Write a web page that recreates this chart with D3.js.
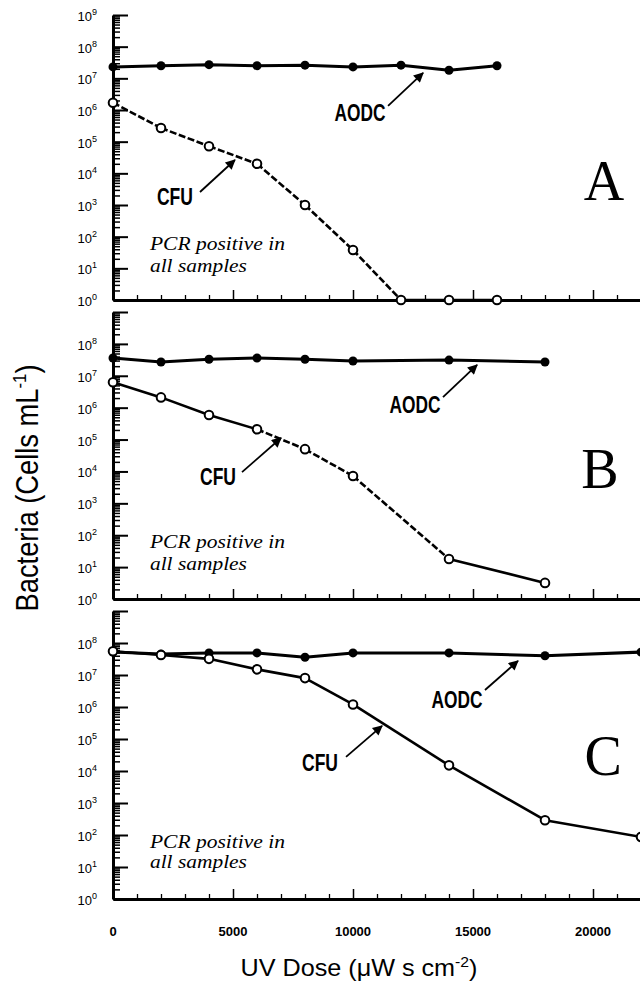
<!DOCTYPE html>
<html>
<head>
<meta charset="utf-8">
<script src="https://cdn.jsdelivr.net/npm/d3@7"></script>
<style>
body { margin: 0; background: #fff; }
svg { display: block; }
</style>
</head>
<body>
<svg id="chart" width="640" height="987"></svg>
<script>
// ---- data ----
const doseA = [0, 2000, 4000, 6000, 8000, 10000, 12000, 14000, 16000];
const aodcA = [2.3e7, 2.5e7, 2.7e7, 2.5e7, 2.6e7, 2.3e7, 2.6e7, 1.8e7, 2.5e7];
const cfuA  = [1.7e6, 2.7e5, 7.2e4, 2.0e4, 1.0e3, 38, 1, 1, 1];

const doseB = [0, 2000, 4000, 6000, 8000, 10000, 14000, 18000];
const aodcB = [3.6e7, 2.7e7, 3.3e7, 3.6e7, 3.3e7, 2.9e7, 3.1e7, 2.7e7];
const cfuB  = [6.3e6, 2.1e6, 5.9e5, 2.1e5, 5.0e4, 7.2e3, 18, 3.2];

const doseC = [0, 2000, 4000, 6000, 8000, 10000, 14000, 18000, 22000];
const aodcC = [5.2e7, 4.5e7, 4.9e7, 4.9e7, 3.6e7, 4.9e7, 4.9e7, 4.0e7, 5.2e7];
const cfuC  = [5.5e7, 4.2e7, 3.2e7, 1.5e7, 8.0e6, 1.2e6, 1.5e4, 290, 87];

const xTicks = [0, 5000, 10000, 15000, 20000];
const yPowers = [0, 1, 2, 3, 4, 5, 6, 7, 8, 9];

const svg = d3.select("#chart");
const narrow = "'Liberation Sans Narrow', 'Arial Narrow', 'Liberation Sans', Arial, sans-serif";
const sans = "'Liberation Sans', Arial, sans-serif";
const serif = "'Liberation Serif', 'Times New Roman', serif";

const x = d3.scaleLinear().domain([0, 22000]).range([113, 641]);

// annotation placement, in (dose, log10 cells) units
const panels = [
    { name: "A", bottom: 300, top: 15, showTop: true,
      dose: doseA, aodc: aodcA, cfu: cfuA, dashed: [1, 1, 1, 1, 1, 1, 0, 0],
      aodcText: [10290, 5.9], aodcArrow: [[11460, 6.13], [12920, 7.17]],
      cfuText: [2580, 3.25], cfuArrow: [[3625, 3.41], [5080, 4.42]],
      letter: [20460, 3.16], pcr: [1540, 1.58, 0.88] },
    { name: "B", bottom: 599, top: 312, showTop: false,
      dose: doseB, aodc: aodcB, cfu: cfuB, dashed: [0, 0, 0, 1, 1, 1, 0],
      aodcText: [12580, 6.08], aodcArrow: [[13750, 6.33], [15170, 7.34]],
      cfuText: [4375, 3.82], cfuArrow: [[5375, 3.98], [7000, 5.05]],
      letter: [20290, 3.48], pcr: [1540, 1.6, 0.91] },
    { name: "C", bottom: 899, top: 611, showTop: false,
      dose: doseC, aodc: aodcC, cfu: cfuC, dashed: [0, 0, 0, 0, 0, 0, 0, 0],
      aodcText: [14330, 6.22], aodcArrow: [[15500, 6.53], [16875, 7.44]],
      cfuText: [8625, 4.25], cfuArrow: [[9710, 4.44], [11210, 5.41]],
      letter: [20420, 3.875], pcr: [1540, 1.59, 0.97] }
];

svg.append("rect").attr("width", 640).attr("height", 987).attr("fill", "#fff");

const defs = svg.append("defs");
defs.append("marker")
    .attr("id", "arrow")
    .attr("viewBox", "0 0 10 10")
    .attr("refX", 9).attr("refY", 5)
    .attr("markerWidth", 13).attr("markerHeight", 10)
    .attr("markerUnits", "userSpaceOnUse")
    .attr("orient", "auto")
    .append("path").attr("d", "M0,0L10,5L0,10z").attr("fill", "#000");

panels.forEach(drawPanel);

function drawPanel(p) {
    const y = d3.scaleLog().domain([1, 1e9]).range([p.bottom, p.top]);
    const g = svg.append("g").attr("class", "panel-" + p.name);

    // y axis: minor + major ticks pointing inward
    const minor = [];
    for (let k = 0; k < 9; k++) for (let m = 2; m <= 9; m++) minor.push(m * Math.pow(10, k));
    g.append("g")
        .attr("transform", `translate(${x(0)},0)`)
        .call(d3.axisRight(y).tickValues(minor).tickSize(7).tickSizeOuter(0).tickFormat(""))
        .call(a => a.select(".domain").remove())
        .call(a => a.selectAll("line").attr("stroke-width", 1.5));
    g.append("g")
        .attr("transform", `translate(${x(0)},0)`)
        .call(d3.axisRight(y).tickValues(yPowers.map(k => Math.pow(10, k))).tickSize(15).tickSizeOuter(0).tickFormat(""))
        .call(a => a.select(".domain").attr("stroke-width", 3))
        .call(a => a.selectAll("line").attr("stroke-width", 2));

    // y tick labels 10^k
    const labs = g.append("g").attr("font-family", sans).attr("font-size", 13);
    yPowers.filter(k => k < 9 || p.showTop).forEach(k => {
        const t = labs.append("text")
            .attr("x", 97).attr("y", y(Math.pow(10, k)) + 6)
            .attr("text-anchor", "end");
        t.append("tspan").text("10");
        t.append("tspan").attr("font-size", 9).attr("dy", -6).text(k);
    });

    // x axis, ticks pointing up
    const minorX = d3.range(0, 22001, 1000).filter(v => v % 5000 !== 0);
    g.append("g")
        .attr("transform", `translate(0,${p.bottom})`)
        .call(d3.axisTop(x).tickValues(minorX).tickSize(5).tickSizeOuter(0).tickFormat(""))
        .call(a => a.select(".domain").remove())
        .call(a => a.selectAll("line").attr("stroke-width", 1.3));
    g.append("g")
        .attr("transform", `translate(0,${p.bottom})`)
        .call(d3.axisTop(x).tickValues(xTicks).tickSize(10).tickSizeOuter(0).tickFormat(""))
        .call(a => a.select(".domain").attr("stroke-width", 3))
        .call(a => a.selectAll("line").attr("stroke-width", 1.5));

    // AODC line + filled points
    const line = d3.line().x(d => x(d[0])).y(d => y(d[1]));
    const aodcPts = d3.zip(p.dose, p.aodc);
    g.append("path")
        .attr("d", line(aodcPts))
        .attr("fill", "none").attr("stroke", "#000")
        .attr("stroke-width", 3).attr("stroke-linejoin", "round");

    // CFU segments (some dashed in the original)
    const cfuPts = d3.zip(p.dose, p.cfu);
    d3.pairs(cfuPts).forEach((seg, i) => {
        g.append("path")
            .attr("d", line(seg))
            .attr("fill", "none").attr("stroke", "#000")
            .attr("stroke-width", 2.6)
            .attr("stroke-dasharray", p.dashed[i] ? "7,2.5" : null);
    });

    g.selectAll(".aodc-pt").data(aodcPts).enter().append("circle")
        .attr("class", "aodc-pt")
        .attr("cx", d => x(d[0])).attr("cy", d => y(d[1]))
        .attr("r", 4.5).attr("fill", "#000");

    g.selectAll(".cfu-pt").data(cfuPts).enter().append("circle")
        .attr("class", "cfu-pt")
        .attr("cx", d => x(d[0])).attr("cy", d => y(d[1]))
        .attr("r", 4.3).attr("fill", "#fff")
        .attr("stroke", "#000").attr("stroke-width", 2);

    // annotations
    const px = d => [x(d[0]), y(Math.pow(10, d[1]))];
    const label = (pos, txt, len) => {
        const [lx, ly] = px(pos);
        g.append("text")
            .attr("x", lx).attr("y", ly + 8)
            .attr("text-anchor", "middle")
            .attr("font-family", narrow).attr("font-weight", "bold")
            .attr("font-size", 23)
            .attr("textLength", len).attr("lengthAdjust", "spacingAndGlyphs")
            .text(txt);
    };
    const arrow = pts => {
        const a = px(pts[0]), b = px(pts[1]);
        g.append("line")
            .attr("x1", a[0]).attr("y1", a[1]).attr("x2", b[0]).attr("y2", b[1])
            .attr("stroke", "#000").attr("stroke-width", 1.8)
            .attr("marker-end", "url(#arrow)");
    };
    label(p.aodcText, "AODC", 51);
    arrow(p.aodcArrow);
    label(p.cfuText, "CFU", 36);
    arrow(p.cfuArrow);

    const [lx, ly] = px(p.letter);
    g.append("text")
        .attr("x", lx).attr("y", ly)
        .attr("text-anchor", "middle")
        .attr("font-family", serif).attr("font-size", 56)
        .text(p.name);

    const pcrX = x(p.pcr[0]);
    [["PCR positive in", p.pcr[1], 135], ["all samples", p.pcr[2], 97]].forEach(r => {
        g.append("text")
            .attr("x", pcrX).attr("y", y(Math.pow(10, r[1])))
            .attr("font-family", serif).attr("font-style", "italic")
            .attr("font-size", 19)
            .attr("textLength", r[2]).attr("lengthAdjust", "spacingAndGlyphs")
            .text(r[0]);
    });
}

// x tick labels under the last panel
const last = panels[panels.length - 1];
svg.append("g").selectAll("text").data(xTicks).enter().append("text")
    .attr("x", d => x(d)).attr("y", last.bottom + 37)
    .attr("text-anchor", "middle")
    .attr("font-family", sans).attr("font-weight", "bold").attr("font-size", 13)
    .text(d => d);

// axis titles
const xt = svg.append("text")
    .attr("x", 359).attr("y", 976)
    .attr("text-anchor", "middle")
    .attr("font-family", narrow).attr("font-size", 24)
    .attr("textLength", 237).attr("lengthAdjust", "spacingAndGlyphs");
xt.append("tspan").text("UV Dose (\u03BCW s cm");
xt.append("tspan").attr("font-size", 15).attr("dy", -9).text("-2");
xt.append("tspan").attr("dy", 9).text(")");

const yt = svg.append("text")
    .attr("transform", "translate(38,488) rotate(-90)")
    .attr("text-anchor", "middle")
    .attr("font-family", narrow).attr("font-size", 31)
    .attr("textLength", 247).attr("lengthAdjust", "spacingAndGlyphs");
yt.append("tspan").text("Bacteria (Cells mL");
yt.append("tspan").attr("font-size", 19).attr("dy", -12).text("-1");
yt.append("tspan").attr("dy", 12).text(")");
</script>
</body>
</html>
